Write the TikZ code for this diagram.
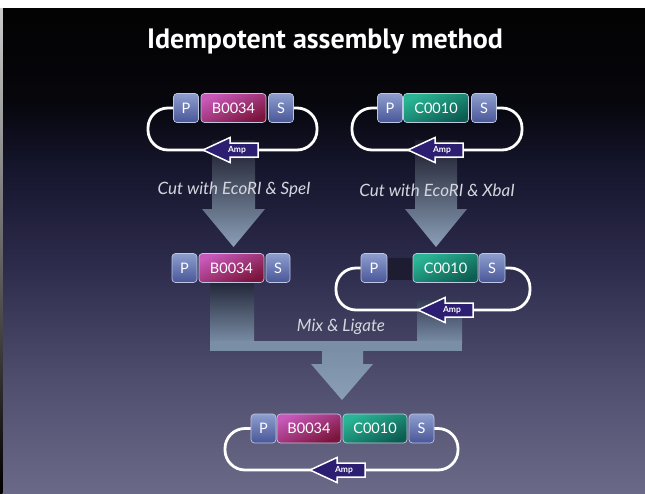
\documentclass[tikz,border=0pt]{standalone}
\usepackage{fontspec}
\setmainfont{Lato}
\newfontfamily\titlefont{PT Sans}
\usetikzlibrary{shadows}

% slide colours
\definecolor{bgA}{RGB}{106,106,136}
\definecolor{bgB}{RGB}{80,78,110}
\definecolor{bgC}{RGB}{44,42,74}
\definecolor{bgD}{RGB}{22,22,46}
\definecolor{bgE}{RGB}{6,6,12}
\definecolor{bgF}{RGB}{3,3,3}
\definecolor{pstop}{RGB}{142,158,206}
\definecolor{psbot}{RGB}{72,86,152}
\definecolor{magtop}{RGB}{200,88,186}
\definecolor{magbot}{RGB}{122,20,58}
\definecolor{teatop}{RGB}{42,182,150}
\definecolor{teabot}{RGB}{12,92,80}
\definecolor{partedge}{RGB}{190,198,226}
\definecolor{ampfill}{RGB}{44,30,112}
\definecolor{arrtop}{RGB}{26,26,42}
\definecolor{arrbot}{RGB}{140,160,184}
\definecolor{mixdark}{RGB}{36,40,58}
\definecolor{mixdark2}{RGB}{52,60,84}
\definecolor{mixlight}{RGB}{122,142,166}
\definecolor{mixtip}{RGB}{138,158,182}
\definecolor{gapdark}{RGB}{30,28,48}
\definecolor{labelgray}{RGB}{214,214,222}

\pgfdeclareverticalshading{slidebg}{100bp}{color(0bp)=(bgA); color(25bp)=(bgA);
  color(36.6bp)=(bgB); color(49bp)=(bgC); color(58.3bp)=(bgD);
  color(65.5bp)=(bgE); color(75bp)=(bgF); color(100bp)=(bgF)}

\tikzset{
  part/.style={rounded corners=3.5pt, draw=partedge, line width=0.7pt,
    minimum height=29pt, inner sep=0pt, text=white, font=\fontsize{14.5}{14.5}\selectfont},
  psbox/.style={part, minimum width=25pt, top color=pstop, bottom color=psbot},
  rbsbox/.style={part, minimum width=65pt, top color=magtop, bottom color=magbot, shading angle=25},
  cdsbox/.style={part, minimum width=65pt, top color=teatop, bottom color=teabot, shading angle=25},
  loopline/.style={white, line width=2.8pt, rounded corners=20pt},
  ampshape/.style={fill=ampfill, draw=white, line width=1.5pt, line join=miter,
    drop shadow={shadow xshift=1.2pt, shadow yshift=-1.2pt, opacity=0.45}},
  amptext/.style={text=white, inner sep=0pt, font=\fontsize{8.5}{8.5}\selectfont\bfseries},
  bigarrow/.style={top color=arrtop, bottom color=arrbot},
  cutlabel/.style={text=labelgray, inner sep=0pt, font=\fontsize{17}{17}\selectfont\itshape},
  slidetitle/.style={text=white, inner sep=0pt, font=\titlefont\fontsize{28}{28}\selectfont\bfseries},
  gapbar/.style={fill=gapdark, inner sep=0pt, minimum width=27pt, minimum height=22pt}
}

% resistance marker: left-pointing block arrow with its label
\newcommand\amparrow[3]{%
  \path[ampshape] (#2,#3) -- ++(27,-12.5) -- ++(0,5.5) -- ++(28,0) -- ++(0,14)
    -- ++(-28,0) -- ++(0,5.5) -- cycle;
  \node[amptext] (#1) at (#2+34,#3) {Amp};}

\begin{document}
\begin{tikzpicture}[x=1pt, y=-1pt]
\useasboundingbox (0,0) rectangle (645,493);

% slide background
\fill[white] (0,0) rectangle (645,8);
\shade[shading=slidebg] (2.5,8) rectangle (645,493);
\shade[top color=white!80!black, bottom color=black] (0,8) rectangle (2.5,493);

\node[slidetitle] (title) at (325,42) {Idempotent assembly method};

% digestion arrows
\shade[bigarrow] (212,140) -- (255,140) -- (255,209) -- (265,209) -- (233.5,247)
  -- (202,209) -- (212,209) -- cycle;
\shade[bigarrow] (415,140) -- (457,140) -- (457,209) -- (467,209) -- (436,247)
  -- (405,209) -- (415,209) -- cycle;

% ligation arrow
\shade[top color=mixdark, bottom color=mixlight] (210,283) rectangle (254,343);
\shade[top color=mixdark2, bottom color=mixlight] (417,300) rectangle (462,343);
\fill[mixlight] (210,341) rectangle (462,351);
\shade[top color=mixlight, bottom color=mixtip] (322,350) -- (363,350) -- (363,364)
  -- (373,364) -- (342,400) -- (311,364) -- (322,364) -- cycle;

% plasmid 1: B0034
\node[psbox] (p1) at (186,108) {P};
\node[rbsbox] (b1) at (233.5,108) {B0034};
\node[psbox] (s1) at (281,108) {S};
\draw[loopline] (p1.west) -- (148,108) -- (148,150) -- (317,150) -- (317,108) -- (s1.east);
\amparrow{amp1}{203}{150}

% plasmid 2: C0010
\node[psbox] (p2) at (390,108) {P};
\node[cdsbox] (c2) at (436,108) {C0010};
\node[psbox] (s2) at (484,108) {S};
\draw[loopline] (p2.west) -- (352,108) -- (352,150) -- (522,150) -- (522,108) -- (s2.east);
\amparrow{amp2}{408}{150}

\node[cutlabel] (cut1) at (234,190) {Cut with EcoRI \& SpeI};
\node[cutlabel] (cut2) at (437,190) {Cut with EcoRI \& XbaI};

% cut fragment
\node[psbox] (p3) at (184.5,268) {P};
\node[rbsbox] (b3) at (231.5,268) {B0034};
\node[psbox, minimum width=24pt] (s3) at (278,268) {S};

% opened vector
\node[gapbar] (g4) at (400,269) {};
\node[psbox, minimum width=26pt] (p4) at (374,268) {P};
\node[cdsbox] (c4) at (445.5,268) {C0010};
\node[psbox, minimum width=26pt] (s4) at (492,268) {S};
\draw[loopline] (p4.west) -- (336,268) -- (336,310) -- (530,310) -- (530,268) -- (s4.east);
\amparrow{amp4}{418}{310}

\node[cutlabel] (mix) at (341,327) {Mix \& Ligate};

% product
\node[psbox] (p5) at (263.5,428.5) {P};
\node[rbsbox, minimum width=64pt] (b5) at (309,428.5) {B0034};
\node[cdsbox, minimum width=64pt] (c5) at (375,428.5) {C0010};
\node[psbox] (s5) at (421.5,428.5) {S};
\draw[loopline] (p5.west) -- (225,428.5) -- (225,470) -- (458,470) -- (458,428.5) -- (s5.east);
\amparrow{amp5}{310}{470}
\end{tikzpicture}
\end{document}
